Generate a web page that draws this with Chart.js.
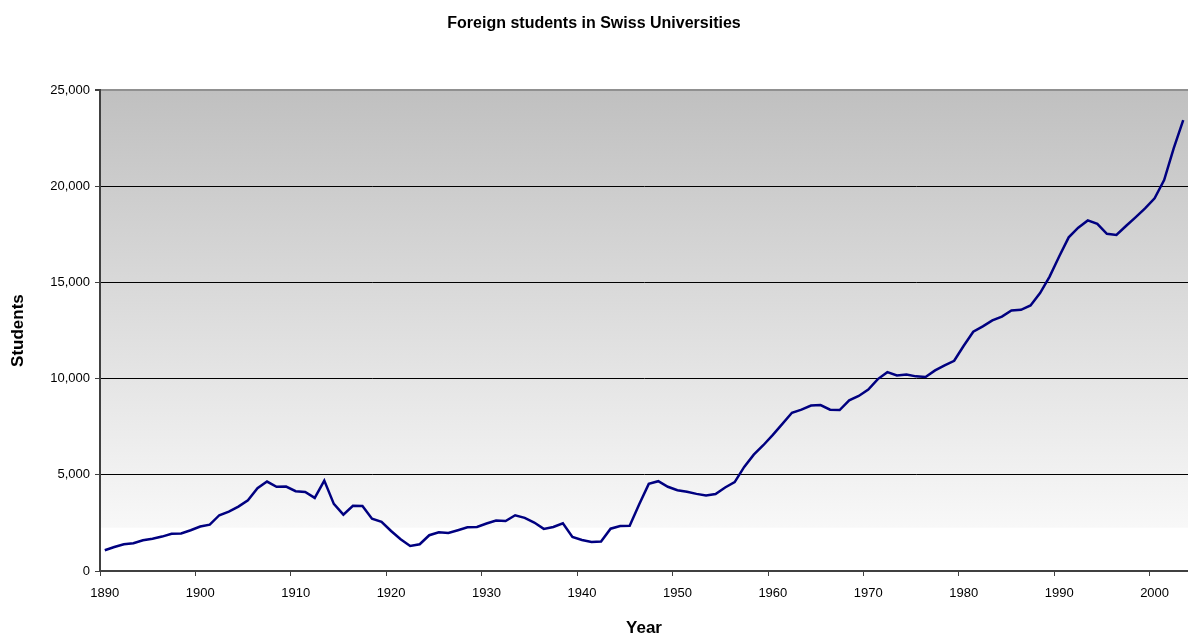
<!DOCTYPE html>
<html>
<head>
<meta charset="utf-8">
<title>Foreign students in Swiss Universities</title>
<script src="https://cdn.jsdelivr.net/npm/chart.js@4/dist/chart.umd.min.js"></script>
<style>
    html, body { margin: 0; padding: 0; background: #fff; overflow: hidden; }
    #wrap { width: 1188px; height: 637px; }
</style>
</head>
<body>
<div id="wrap"><canvas id="lineChart"></canvas></div>
<script>
const years = [
    1890, 1891, 1892, 1893, 1894, 1895, 1896, 1897, 1898, 1899,
    1900, 1901, 1902, 1903, 1904, 1905, 1906, 1907, 1908, 1909,
    1910, 1911, 1912, 1913, 1914, 1915, 1916, 1917, 1918, 1919,
    1920, 1921, 1922, 1923, 1924, 1925, 1926, 1927, 1928, 1929,
    1930, 1931, 1932, 1933, 1934, 1935, 1936, 1937, 1938, 1939,
    1940, 1941, 1942, 1943, 1944, 1945, 1946, 1947, 1948, 1949,
    1950, 1951, 1952, 1953, 1954, 1955, 1956, 1957, 1958, 1959,
    1960, 1961, 1962, 1963, 1964, 1965, 1966, 1967, 1968, 1969,
    1970, 1971, 1972, 1973, 1974, 1975, 1976, 1977, 1978, 1979,
    1980, 1981, 1982, 1983, 1984, 1985, 1986, 1987, 1988, 1989,
    1990, 1991, 1992, 1993, 1994, 1995, 1996, 1997, 1998, 1999,
    2000, 2001, 2002, 2003
];

const students = [
    1080, 1250, 1390, 1440, 1600, 1680, 1790, 1940, 1950, 2120,
    2310, 2410, 2900, 3090, 3350, 3680, 4310, 4650, 4380, 4390,
    4150, 4110, 3800, 4700, 3490, 2930, 3390, 3380, 2720, 2560,
    2080, 1650, 1300, 1390, 1860, 2010, 1980, 2120, 2270, 2290,
    2470, 2620, 2600, 2900, 2760, 2520, 2190, 2290, 2480, 1770,
    1610, 1510, 1530, 2200, 2340, 2350, 3470, 4530, 4670, 4380,
    4200, 4120, 4010, 3930, 4000, 4340, 4620, 5410, 6050, 6540,
    7080, 7650, 8230, 8390, 8600, 8630, 8390, 8370, 8870, 9100,
    9430, 9980, 10340, 10170, 10220, 10120, 10090, 10430, 10690, 10930,
    11710, 12440, 12720, 13030, 13230, 13550, 13580, 13810, 14450, 15310,
    16350, 17350, 17850, 18230, 18050, 17530, 17470, 17940, 18390, 18860,
    19380, 20330, 21970, 23440
];

const yTicks = [0, 5000, 10000, 15000, 20000, 25000];

const FONT = "'Liberation Sans', Arial, sans-serif";

// grey-to-white fill behind the plot, white strip at the bottom like the original
const plotBackground = {
    id: "plotBackground",
    beforeDraw(chart) {
        const { ctx, chartArea } = chart;
        const { left, top, right, bottom } = chartArea;
        const fadeEnd = top + (bottom - top) * 0.91;
        const grad = ctx.createLinearGradient(0, top, 0, fadeEnd);
        grad.addColorStop(0, "#c0c0c0");
        grad.addColorStop(1, "#f8f8f8");
        ctx.save();
        ctx.fillStyle = "#ffffff";
        ctx.fillRect(left, top, right - left, bottom - top);
        ctx.fillStyle = grad;
        ctx.fillRect(left, top, right - left, fadeEnd - top);
        ctx.restore();
    }
};

const ctx = document.getElementById("lineChart").getContext("2d");
const lineChart = new Chart(ctx, {
    type: "line",
    data: {
        labels: years,
        datasets: [
            {
                label: "Students",
                data: students,
                borderColor: "#000080",
                borderWidth: 2.5,
                pointRadius: 0,
                tension: 0,
                fill: false
            }
        ]
    },
    options: {
        responsive: true,
        maintainAspectRatio: false,
        animation: false,
        layout: { padding: 0 },
        plugins: {
            legend: { display: false },
            tooltip: { enabled: false },
            title: {
                display: true,
                text: "Foreign students in Swiss Universities",
                color: "#000",
                font: { family: FONT, size: 16, weight: "bold", lineHeight: 1.2 },
                padding: { top: 14, bottom: 57 }
            }
        },
        scales: {
            x: {
                type: "category",
                offset: true,
                border: { color: "#404040", width: 2 },
                grid: {
                    offset: true,
                    drawOnChartArea: false,
                    drawTicks: true,
                    tickLength: 5,
                    color: (c) => (years[c.index] % 10 === 0 ? "#404040" : "rgba(0,0,0,0)")
                },
                ticks: {
                    autoSkip: false,
                    maxRotation: 0,
                    minRotation: 0,
                    padding: 10,
                    color: "#000",
                    font: { family: FONT, size: 13 },
                    callback: function (val, i) {
                        const yr = years[i];
                        return yr % 10 === 0 ? String(yr) : "";
                    }
                },
                title: {
                    display: true,
                    text: "Year",
                    color: "#000",
                    font: { family: FONT, size: 17, weight: "bold", lineHeight: 1 },
                    padding: { top: 0, bottom: 0 }
                },
                afterFit: (scale) => {
                    scale.height = 66;
                    scale.paddingLeft = 0;
                    scale.paddingRight = 0;
                }
            },
            y: {
                min: 0,
                max: 25000,
                border: { color: "#404040", width: 2 },
                grid: {
                    color: (c) => (c.tick && c.tick.value === 25000 ? "#909090" : "#000000"),
                    lineWidth: (c) => (c.tick && c.tick.value === 25000 ? 2 : 1),
                    tickLength: 5,
                    tickColor: "#404040"
                },
                afterBuildTicks: (scale) => {
                    scale.ticks = yTicks.map((v) => ({ value: v }));
                },
                ticks: {
                    padding: 5,
                    color: "#000",
                    font: { family: FONT, size: 13 },
                    callback: (v) => v.toLocaleString("en-US")
                },
                title: {
                    display: true,
                    text: "Students",
                    color: "#000",
                    font: { family: FONT, size: 17, weight: "bold", lineHeight: 1.2 },
                    padding: { top: 8, bottom: 0 }
                },
                afterFit: (scale) => { scale.width = 100; }
            }
        }
    },
    plugins: [plotBackground]
});
</script>
</body>
</html>
